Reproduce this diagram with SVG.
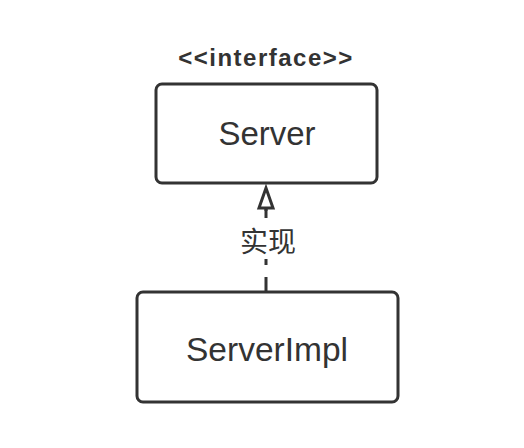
<svg xmlns="http://www.w3.org/2000/svg" width="524" height="448" viewBox="0 0 524 448">
<style>
.box{fill:#fff;stroke:#333;stroke-width:3}
.t{font-family:"Liberation Sans","Noto Sans CJK SC",sans-serif;fill:#333;text-anchor:middle}
</style>
<rect width="524" height="448" fill="#fff"/>
<g id="connectors">
<line x1="266" y1="292" x2="266" y2="208" stroke="#333" stroke-width="3" stroke-dasharray="15 12"/>
<line x1="266" y1="208" x2="266" y2="218" stroke="#333" stroke-width="3"/>
<polygon points="266,188 259,208 273,208" fill="#fff" stroke="#333" stroke-width="3" stroke-linejoin="miter"/>
<rect x="236" y="222" width="64" height="37" fill="#fff"/>
<text class="t" x="268" y="252" font-size="28">实现</text>
</g>
<g id="server">
<text class="t" x="266" y="66" font-size="24" font-weight="bold" letter-spacing="1.5">&lt;&lt;interface&gt;&gt;</text>
<rect class="box" x="156" y="84" width="221" height="99" rx="6"/>
<text class="t" x="267" y="145" font-size="33">Server</text>
</g>
<g id="serverimpl">
<rect class="box" x="137" y="292" width="261" height="110" rx="6"/>
<text class="t" x="267" y="361" font-size="33.5">ServerImpl</text>
</g>
</svg>
